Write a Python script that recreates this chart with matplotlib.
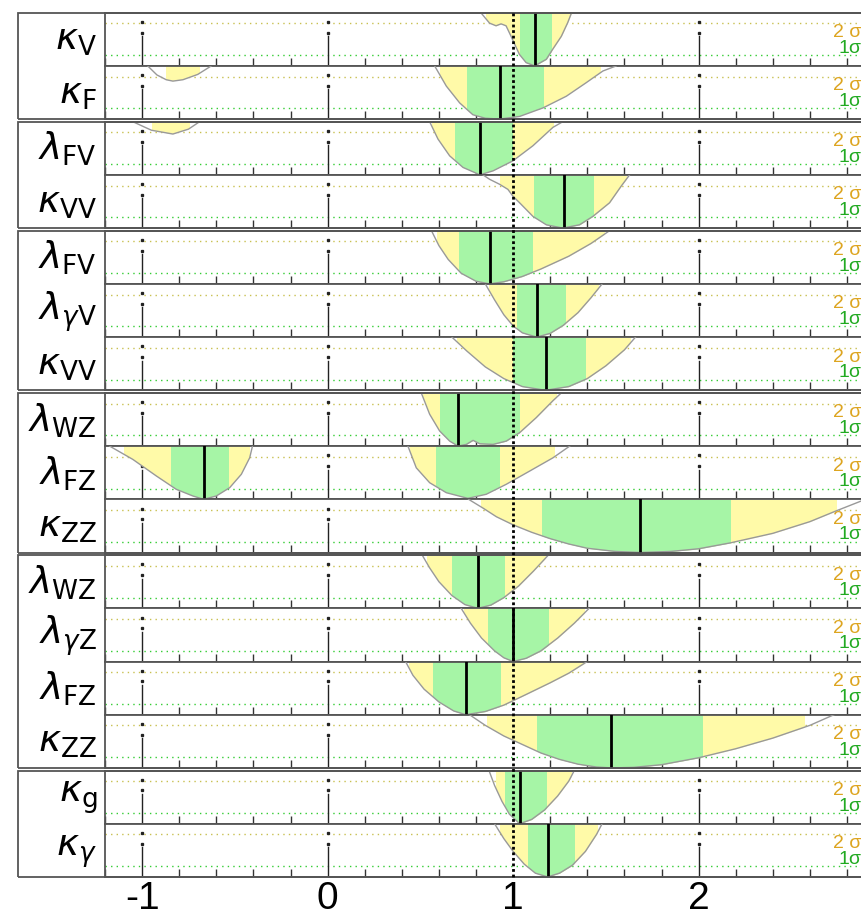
import matplotlib.pyplot as plt
import numpy as np
from matplotlib.patches import Rectangle
from matplotlib.lines import Line2D
import matplotlib.transforms as mtransforms

plt.rcParams["font.family"] = "Liberation Sans"
plt.rcParams["mathtext.fontset"] = "dejavusans"

# row labels, top to bottom
labels = [r"$\kappa_{\mathrm{V}}$", r"$\kappa_{\mathrm{F}}$",
          r"$\lambda_{\mathrm{FV}}$", r"$\kappa_{\mathrm{VV}}$",
          r"$\lambda_{\mathrm{FV}}$", r"$\lambda_{\gamma\mathrm{V}}$", r"$\kappa_{\mathrm{VV}}$",
          r"$\lambda_{\mathrm{WZ}}$", r"$\lambda_{\mathrm{FZ}}$", r"$\kappa_{\mathrm{ZZ}}$",
          r"$\lambda_{\mathrm{WZ}}$", r"$\lambda_{\gamma\mathrm{Z}}$", r"$\lambda_{\mathrm{FZ}}$", r"$\kappa_{\mathrm{ZZ}}$",
          r"$\kappa_{\mathrm{g}}$", r"$\kappa_{\gamma}$"]
group_sizes = [2, 2, 3, 3, 4, 2]

best_fit = [1.116, 0.927, 0.82, 1.274, 0.873, 1.127, 1.175,
            0.703, -0.668, 1.686, 0.81, 1.0, 0.745, 1.53, 1.035, 1.186]

# 1 sigma / 2 sigma intervals
ci_1sigma = [[(1.035, 1.206)], [(0.751, 1.164)], [(0.686, 0.999)], [(1.112, 1.43)],
             [(0.71, 1.10)], [(1.02, 1.28)], [(1.0, 1.385)],
             [(0.604, 1.031)], [(-0.843, -0.532), (0.582, 0.927)], [(1.154, 2.171)],
             [(0.67, 0.95)], [(0.865, 1.19)], [(0.57, 0.93)], [(1.13, 2.02)],
             [(0.954, 1.18)], [(1.08, 1.33)]]
ci_2sigma = [[(0.855, 1.316)], [(-0.873, -0.69), (0.604, 1.475)],
             [(-0.945, -0.744), (0.564, 1.218)], [(0.927, 1.61)],
             [(0.59, 1.49)], [(0.87, 1.46)], [(0.70, 1.63)],
             [(0.514, 1.232)], [(-1.1, -0.417), (0.442, 1.224)], [(0.827, 2.742)],
             [(0.535, 1.17)], [(0.735, 1.38)], [(0.44, 1.38)], [(0.86, 2.57)],
             [(0.91, 1.31)], [(0.93, 1.45)]]

# -2 delta lnL scans (x, value), nan splits separate branches
curve_x = [
    [0.829, 0.873, 0.908, 0.935, 0.962, 0.989, 1.034, 1.070, 1.116, 1.179, 1.213, 1.260, 1.294, 1.314],
    [-0.97, -0.92, -0.87, -0.834, -0.78, -0.70, -0.627, np.nan,
     0.577, 0.640, 0.712, 0.783, 0.85, 0.927, 1.035, 1.161, 1.287, 1.394, 1.484, 1.556],
    [-1.05, -0.95, -0.834, -0.75, -0.69, np.nan,
     0.55, 0.595, 0.658, 0.730, 0.792, 0.82, 0.892, 0.999, 1.107, 1.215, 1.268],
    [0.838, 0.873, 0.927, 0.972, 0.999, 1.035, 1.107, 1.179, 1.268, 1.358, 1.43, 1.52, 1.583, 1.628],
    [0.56, 0.60, 0.65, 0.72, 0.80, 0.873, 0.95, 1.05, 1.15, 1.30, 1.42, 1.52],
    [0.85, 0.90, 0.95, 1.00, 1.05, 1.127, 1.20, 1.27, 1.35, 1.42, 1.48],
    [0.67, 0.75, 0.85, 0.95, 1.05, 1.175, 1.30, 1.40, 1.50, 1.60, 1.66],
    [0.505, 0.550, 0.604, 0.658, 0.703, 0.748, 0.784, 0.820, 0.892, 0.963, 1.035, 1.125, 1.215, 1.26],
    [-1.175, -1.050, -0.923, -0.816, -0.726, -0.668, -0.600, -0.528, -0.465, -0.420, -0.405, np.nan,
     0.433, 0.478, 0.550, 0.640, 0.756, 0.855, 0.963, 1.089, 1.215, 1.305],
    [0.76, 0.84, 0.91, 1.0, 1.1, 1.2, 1.3, 1.4, 1.55, 1.686, 1.85, 2.0, 2.17, 2.4, 2.6, 2.74, 2.9],
    [0.51, 0.55, 0.60, 0.67, 0.74, 0.81, 0.88, 0.95, 1.03, 1.11, 1.19],
    [0.72, 0.77, 0.83, 0.90, 0.95, 1.0, 1.07, 1.15, 1.24, 1.33, 1.41],
    [0.42, 0.46, 0.52, 0.60, 0.68, 0.745, 0.85, 0.95, 1.07, 1.20, 1.30, 1.40],
    [0.765, 0.85, 0.95, 1.05, 1.15, 1.25, 1.35, 1.45, 1.53, 1.65, 1.8, 2.0, 2.2, 2.4, 2.6, 2.73],
    [0.87, 0.90, 0.94, 0.98, 1.035, 1.10, 1.17, 1.24, 1.30, 1.33],
    [0.90, 0.95, 1.0, 1.06, 1.12, 1.186, 1.25, 1.32, 1.39, 1.45, 1.48],
]
curve_d = [
    [4.94, 4.02, 3.77, 3.95, 3.77, 2.78, 1.08, 0.31, 0.0, 0.62, 1.55, 2.78, 4.05, 4.94],
    [5.0, 4.15, 3.7, 3.57, 3.7, 4.2, 5.0, np.nan,
     5.0, 3.1, 1.52, 0.41, 0.08, 0.0, 0.25, 1.05, 2.15, 3.42, 4.52, 5.0],
    [5.0, 4.2, 3.84, 4.3, 5.0, np.nan,
     5.0, 3.37, 1.79, 0.70, 0.23, 0.0, 0.38, 1.32, 2.74, 4.47, 5.0],
    [5.0, 4.59, 4.12, 3.64, 3.0, 2.38, 1.10, 0.31, 0.0, 0.31, 1.10, 2.38, 3.95, 5.0],
    [5.0, 3.6, 2.3, 1.0, 0.25, 0.0, 0.2, 0.7, 1.4, 2.6, 3.8, 5.0],
    [5.0, 3.5, 2.1, 1.05, 0.4, 0.0, 0.35, 1.1, 2.3, 3.7, 5.0],
    [5.0, 3.7, 2.2, 1.1, 0.35, 0.0, 0.35, 1.1, 2.3, 3.8, 5.0],
    [5.0, 3.0, 1.42, 0.47, 0.0, 0.16, 0.54, 0.22, 0.16, 0.47, 1.26, 2.68, 4.27, 5.0],
    [5.0, 3.75, 2.19, 0.94, 0.31, 0.0, 0.31, 1.09, 2.35, 3.9, 5.0, np.nan,
     5.0, 2.96, 1.56, 0.62, 0.09, 0.47, 1.41, 2.65, 3.9, 5.0],
    [5.0, 4.15, 3.36, 2.6, 1.9, 1.3, 0.8, 0.4, 0.1, 0.0, 0.1, 0.35, 0.9, 1.8, 2.9, 3.9, 5.0],
    [5.0, 3.8, 2.5, 1.2, 0.35, 0.0, 0.3, 1.0, 2.1, 3.5, 5.0],
    [5.0, 3.6, 2.2, 1.0, 0.35, 0.0, 0.3, 1.0, 2.2, 3.6, 5.0],
    [5.0, 3.7, 2.4, 1.2, 0.35, 0.0, 0.3, 0.9, 1.9, 3.0, 3.9, 5.0],
    [5.0, 4.0, 3.0, 2.2, 1.4, 0.8, 0.35, 0.08, 0.0, 0.05, 0.3, 0.95, 1.8, 2.8, 4.0, 5.0],
    [5.0, 3.6, 2.1, 0.9, 0.0, 0.4, 1.3, 2.6, 4.0, 5.0],
    [5.0, 3.6, 2.4, 1.2, 0.35, 0.0, 0.35, 1.1, 2.4, 4.0, 5.0],
]
x_ticks = [-1, 0, 1, 2]
x_ticklabels = ["-1", "0", "1", "2"]

# layout in pixels
W, H = 861, 917
TOP, ROW_H, GAP = 12.7, 53.2, 2.6
BOX_L, AX_L, AX_R = 18, 105, 870
X0 = -1.2
PX_PER_UNIT = 185.5
D_TOP = 5.0
X1 = X0 + (AX_R - AX_L) / PX_PER_UNIT

YELLOW = "#fffaa8"
GREEN = "#a6f5a6"
FRAME = "#555555"

fig = plt.figure(figsize=(W / 100, H / 100), dpi=100)

axes = []
y = TOP
row = 0
for g in group_sizes:
    g_top = y
    for k in range(g):
        ax = fig.add_axes([AX_L / W, 1 - (y + ROW_H) / H, (AX_R - AX_L) / W, ROW_H / H])
        ax.set_yticks([])
        for s in ax.spines.values():
            s.set_color(FRAME)
            s.set_linewidth(1.3)
        ax.spines["right"].set_visible(False)

        xs = np.array(curve_x[row], float)
        ds = np.array(curve_d[row], float)

        # reference levels
        ax.axhline(4, color="#c8c050", lw=1, ls=(0, (1, 3)), zorder=1)
        ax.axhline(1, color="#33cc33", lw=1, ls=(0, (1, 3)), zorder=1)

        # major tick decorations
        for xm in [-1, 0, 2]:
            ax.plot([xm, xm], [0, 2.8], color="#222222", lw=1, zorder=1.5)
            ax.plot([xm, xm], [3.13, 4.12], ls="none", marker="s", ms=1.4,
                    color="#222222", zorder=1.5)

        for a, b in ci_2sigma[row]:
            p = ax.fill_between(xs, ds, D_TOP, color=YELLOW, lw=0, zorder=2)
            p.set_clip_path(Rectangle((a, 0), b - a, D_TOP, transform=ax.transData))
        for a, b in ci_1sigma[row]:
            p = ax.fill_between(xs, ds, D_TOP, color=GREEN, lw=0, zorder=2.1)
            p.set_clip_path(Rectangle((a, 0), b - a, D_TOP, transform=ax.transData))

        ax.plot(xs, ds, color="#999999", lw=1, zorder=3)
        ax.plot([best_fit[row]] * 2, [0, D_TOP], color="black", lw=2, zorder=4)

        ax.set_xticks(np.arange(-1.2, 2.95, 0.2), minor=True)
        ax.tick_params(which="minor", direction="in", length=6, width=1,
                       color="#333333", top=False)
        ax.set_xticks(x_ticks)
        ax.tick_params(which="major", length=0, labelbottom=False)
        ax.set_xlim(X0, X1)
        ax.set_ylim(0, D_TOP)

        fig.text(97 / W, 1 - (y + ROW_H / 2 + 1) / H, labels[row], ha="right",
                 va="center", fontsize=27)
        fig.text(832.7 / W, 1 - (y + 20) / H, "2 σ", ha="left", va="center",
                 color="#dda520", fontsize=14)
        fig.text(838.3 / W, 1 - (y + 35.6) / H, "1σ", ha="left", va="center",
                 color="#22aa22", fontsize=14)

        axes.append(ax)
        y += ROW_H
        row += 1
    fig.add_artist(Rectangle((BOX_L / W, 1 - y / H), (AX_R - BOX_L) / W, (y - g_top) / H,
                             fill=False, edgecolor=FRAME, lw=1.3,
                             transform=fig.transFigure))
    y += GAP

bottom_ax = axes[-1]
bottom_ax.set_xticklabels(x_ticklabels, fontsize=28)
bottom_ax.tick_params(which="major", labelbottom=True, pad=3)

# SM value line across all rows
trans = mtransforms.blended_transform_factory(axes[0].transData, fig.transFigure)
fig.add_artist(Line2D([1, 1], [1 - TOP / H, 1 - (y - GAP) / H], transform=trans,
                      color="black", lw=2, ls=(0, (1, 1)), zorder=5))

fig.savefig("out.png", dpi=100)
